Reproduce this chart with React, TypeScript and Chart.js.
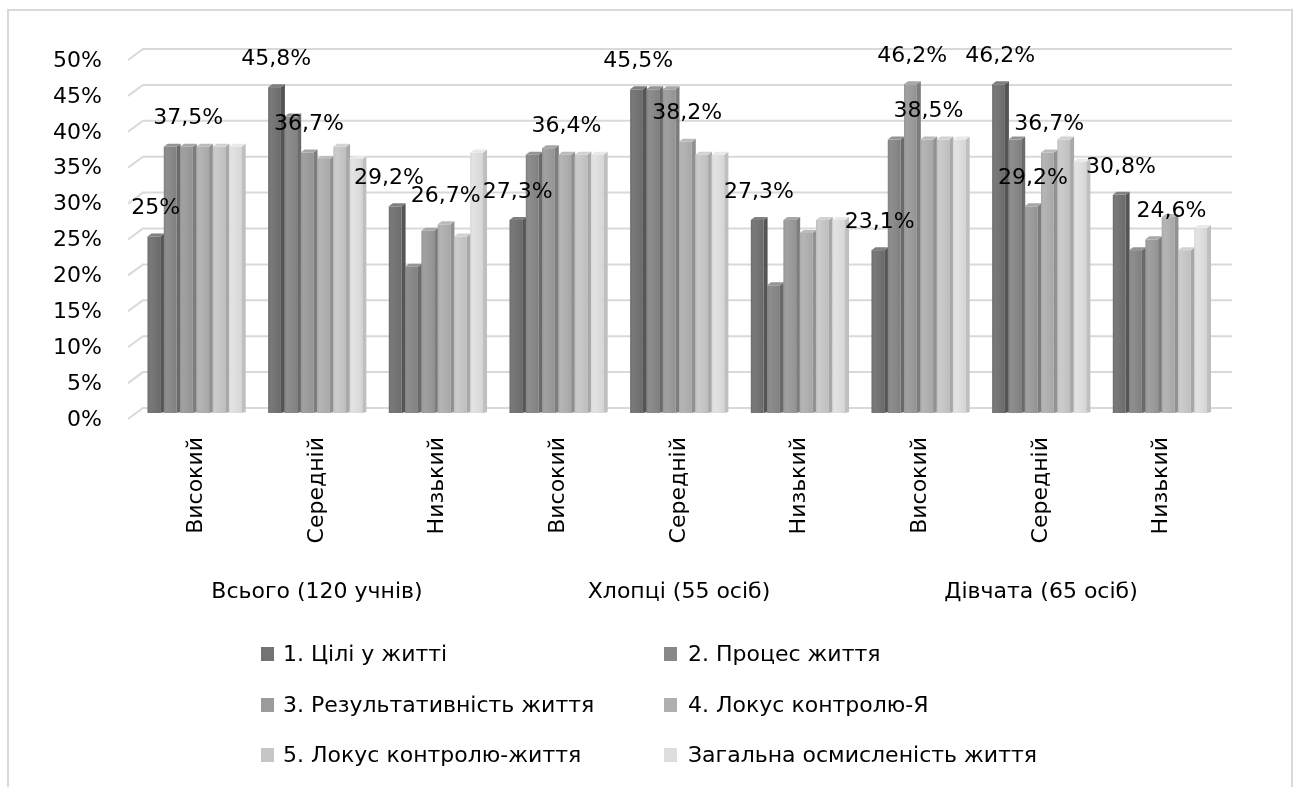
import React, { useEffect, useRef } from 'react';
import { Chart, registerables } from 'chart.js';

Chart.register(...registerables);

const categories = ['Високий', 'Середній', 'Низький', 'Високий', 'Середній', 'Низький', 'Високий', 'Середній', 'Низький'];
const groupLabels = ['Всього (120 учнів)', 'Хлопці (55 осіб)', 'Дівчата (65 осіб)'];
const seriesNames = [
  '1. Цілі у житті',
  '2. Процес життя',
  '3. Результативність життя',
  '4. Локус контролю-Я',
  '5. Локус контролю-життя',
  'Загальна осмисленість життя',
];
const goals = [25, 45.8, 29.2, 27.3, 45.5, 27.3, 23.1, 46.2, 30.8];
const processLife = [37.5, 41.7, 20.8, 36.4, 45.5, 18.2, 38.5, 38.5, 23.1];
const resultLife = [37.5, 36.7, 25.8, 37.3, 45.5, 27.3, 46.2, 29.2, 24.6];
const locusSelf = [37.5, 35.8, 26.7, 36.4, 38.2, 25.5, 38.5, 36.7, 27.7];
const locusLife = [37.5, 37.5, 25.0, 36.4, 36.4, 27.3, 38.5, 38.5, 23.1];
const overall = [37.5, 35.8, 36.7, 36.4, 36.4, 27.3, 38.5, 35.4, 26.2];
const seriesValues = [goals, processLife, resultLife, locusSelf, locusLife, overall];
const seriesColors = ['#737373', '#888888', '#9b9b9b', '#afafaf', '#c6c6c6', '#dddddd'];

const yMin = 0;
const yMax = 50;
const yStep = 5;

// [category index, series index] of bars carrying a value label
const labeledBars: [number, number][] = [
  [0, 0], [0, 2],
  [1, 0], [1, 2],
  [2, 0], [2, 3],
  [3, 0], [3, 3],
  [4, 0], [4, 3],
  [5, 0],
  [6, 0], [6, 2], [6, 3],
  [7, 0], [7, 2], [7, 3],
  [8, 0], [8, 2],
];
// small horizontal nudges of some labels (style only)
const labelNudge: Record<string, number> = { '2-0': -8, '8-2': 18 };

const FONT = "'DejaVu Sans', sans-serif";

function shade(hex: string, amt: number) {
  const n = parseInt(hex.slice(1), 16);
  const r = Math.max(0, Math.min(255, ((n >> 16) & 255) + amt));
  const g = Math.max(0, Math.min(255, ((n >> 8) & 255) + amt));
  const b = Math.max(0, Math.min(255, (n & 255) + amt));
  return `rgb(${r},${g},${b})`;
}

function fmt(v: number) {
  return Number.isInteger(v) ? `${v}%` : `${v.toFixed(1).replace('.', ',')}%`;
}

const bar3d = {
  id: 'bar3d',
  beforeDatasetsDraw(chart: any) {
    const { ctx, chartArea } = chart;
    const ys = chart.scales.y;
    ctx.save();
    ctx.strokeStyle = '#d9d9d9';
    ctx.lineWidth = 2;
    for (let v = yMin; v <= yMax; v += yStep) {
      const y = ys.getPixelForValue(v);
      ctx.beginPath();
      ctx.moveTo(chartArea.left - 8, y + 6);
      ctx.lineTo(chartArea.left + 7, y - 5);
      ctx.lineTo(chartArea.right + 10, y - 5);
      ctx.stroke();
    }
    ctx.restore();
  },
  afterDatasetsDraw(chart: any) {
    const { ctx } = chart;
    const nCat = chart.data.labels.length;
    const nSer = chart.data.datasets.length;
    const side = 4;
    const cap = 3;
    ctx.save();
    for (let c = 0; c < nCat; c++) {
      for (let s = 0; s < nSer; s++) {
        const el = chart.getDatasetMeta(s).data[c];
        if (!el) continue;
        const { x, y, base, width } = el.getProps(['x', 'y', 'base', 'width'], true);
        const col = seriesColors[s];
        const l = x - width / 2;
        const r = x + width / 2 + 0.5;
        const ft = y + cap;
        // front face
        const g = ctx.createLinearGradient(l, 0, r - side, 0);
        g.addColorStop(0, shade(col, -6));
        g.addColorStop(0.2, shade(col, 6));
        g.addColorStop(0.6, col);
        g.addColorStop(1, shade(col, -8));
        ctx.fillStyle = g;
        ctx.fillRect(l, ft, r - side - l, base - ft);
        // side face
        ctx.fillStyle = shade(col, -30);
        ctx.beginPath();
        ctx.moveTo(r - side, ft);
        ctx.lineTo(r, y);
        ctx.lineTo(r, base - 1);
        ctx.lineTo(r - side, base);
        ctx.closePath();
        ctx.fill();
        // top face
        ctx.fillStyle = shade(col, 12);
        ctx.beginPath();
        ctx.moveTo(l, ft);
        ctx.lineTo(l + side, y);
        ctx.lineTo(r, y);
        ctx.lineTo(r - side, ft);
        ctx.closePath();
        ctx.fill();
      }
    }
    // value labels
    ctx.fillStyle = '#000';
    ctx.font = `22px ${FONT}`;
    ctx.textAlign = 'center';
    ctx.textBaseline = 'middle';
    for (const [c, s] of labeledBars) {
      const el = chart.getDatasetMeta(s).data[c];
      if (!el) continue;
      const { x, y } = el.getProps(['x', 'y'], true);
      const dx = labelNudge[`${c}-${s}`] || 0;
      ctx.fillText(fmt(seriesValues[s][c]), x + dx, y - 25);
    }
    ctx.restore();
  },
};

export default function App() {
  const ref = useRef<HTMLCanvasElement | null>(null);

  useEffect(() => {
    if (!ref.current) return;
    Chart.defaults.font.family = FONT;
    Chart.defaults.color = '#000';
    const chart = new Chart(ref.current, {
      type: 'bar',
      data: {
        labels: categories,
        datasets: seriesNames.map((name, i) => ({
          label: name,
          data: seriesValues[i],
          backgroundColor: 'rgba(0,0,0,0)',
          borderWidth: 0,
          categoryPercentage: 0.81,
          barPercentage: 1,
        })),
      },
      options: {
        animation: false,
        responsive: false,
        layout: { padding: { left: 0, top: 54, right: 76, bottom: 174 } },
        plugins: {
          legend: { display: false },
          tooltip: { enabled: false },
        },
        scales: {
          y: {
            min: yMin,
            max: yMax,
            grid: { display: false, drawTicks: false },
            border: { display: false },
            ticks: {
              stepSize: yStep,
              padding: 34,
              labelOffset: 7,
              font: { size: 22 },
              color: '#000',
              callback: (v: any) => `${v}%`,
            },
            afterFit: (scale: any) => {
              scale.width = 136;
            },
          },
          x: {
            weight: 0,
            grid: { display: false, drawTicks: false },
            border: { display: false },
            ticks: {
              autoSkip: false,
              minRotation: 90,
              maxRotation: 90,
              padding: 24,
              font: { size: 22 },
              color: '#000',
            },
            afterFit: (scale: any) => {
              scale.height = 150;
            },
          },
          x2: {
            type: 'category',
            position: 'bottom',
            weight: 1,
            labels: groupLabels,
            offset: true,
            grid: { display: false, drawTicks: false },
            border: { display: false },
            ticks: {
              autoSkip: false,
              maxRotation: 0,
              minRotation: 0,
              padding: 16,
              font: { size: 22 },
              color: '#000',
            },
            afterFit: (scale: any) => {
              scale.height = 50;
            },
          },
        },
      } as any,
      plugins: [bar3d],
    });
    return () => chart.destroy();
  }, []);

  const legendCols = [
    { box: 261, text: 283 },
    { box: 664, text: 688 },
  ];
  const legendRows = [654, 705, 755];

  return (
    <div style={{ position: 'absolute', left: 0, top: 0, width: 1298, height: 787, overflow: 'hidden', background: '#fff' }}>
      <div
        style={{
          position: 'absolute',
          left: 7,
          top: 9,
          width: 1286,
          height: 800,
          border: '2px solid #d9d9d9',
          boxSizing: 'border-box',
        }}
      />
      <canvas ref={ref} width={1298} height={787} style={{ position: 'absolute', left: 0, top: 0 }} />
      {seriesNames.map((name, i) => {
        const col = legendCols[i % 2];
        const cy = legendRows[Math.floor(i / 2)];
        return (
          <React.Fragment key={name}>
            <div
              style={{
                position: 'absolute',
                left: col.box,
                top: cy - 7,
                width: 13,
                height: 14,
                background: seriesColors[i],
              }}
            />
            <div
              style={{
                position: 'absolute',
                left: col.text,
                top: cy - 14,
                height: 28,
                lineHeight: '28px',
                fontFamily: FONT,
                fontSize: 22,
                color: '#000',
                whiteSpace: 'nowrap',
              }}
            >
              {name}
            </div>
          </React.Fragment>
        );
      })}
    </div>
  );
}
